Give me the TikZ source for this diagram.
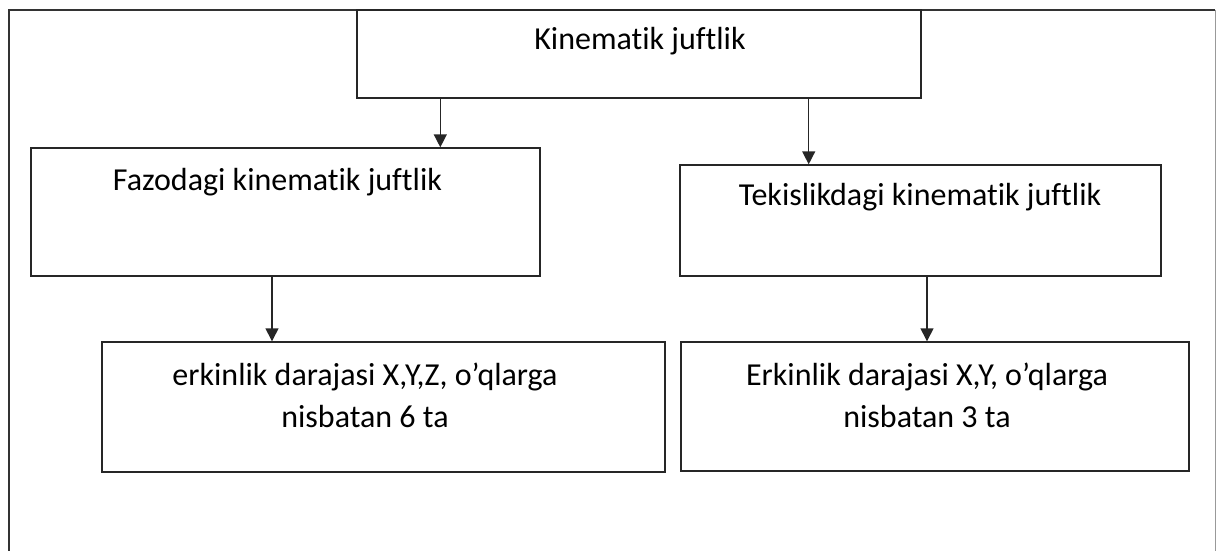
\documentclass[tikz,border=0pt]{standalone}
\usepackage{fontspec}
\setmainfont{Carlito}[Ligatures=NoCommon]
\usetikzlibrary{positioning,arrows.meta}

\tikzset{
    box/.style={draw=black!85, line width=1.4pt, rectangle, inner sep=0pt},
    txt/.style={font=\fontsize{32}{42}\selectfont, align=center, inner sep=0pt},
    arr/.style={draw=black!85, line width=1.4pt, -{Triangle[length=13pt,width=13pt]}}
}

\begin{document}
\begin{tikzpicture}[x=1pt, y=-1pt]
    \useasboundingbox (0,0) rectangle (1216,551);
    % outer frame, open at the bottom
    \draw[draw=black!80, line width=1.4pt] (9,551) -- (9,10) -- (1215,10);
    \draw[draw=black!40, line width=1pt] (1215,10) -- (1215,551);

    % boxes
    \node[box, minimum width=564pt, minimum height=88pt] (top) at (639,54) {};
    \node[box, minimum width=509pt, minimum height=128pt] (fazo) at (285.5,212) {};
    \node[box, minimum width=481pt, minimum height=111pt] (tekis) at (920.5,220.5) {};
    \node[box, minimum width=563pt, minimum height=130pt] (erk6) at (383.5,407) {};
    \node[box, minimum width=508pt, minimum height=129pt] (erk3) at (935,406.5) {};

    % texts
    \node[txt, anchor=base] (toptxt) at (640,50) {Kinematik juftlik};
    \node[txt, anchor=base] (fazotxt) at (277.5,190) {Fazodagi kinematik juftlik};
    \node[txt, anchor=base] (tekistxt) at (920,205) {Tekislikdagi kinematik juftlik};
    \node[txt] (erk6txt) at (365,395) {erkinlik darajasi X,Y,Z, o’qlarga\\nisbatan 6 ta};
    \node[txt] (erk3txt) at (927,395) {Erkinlik darajasi X,Y, o’qlarga\\nisbatan 3 ta};

    % arrows
    \draw[arr] ([xshift=84pt]top.south west) -- ([xshift=84pt]top.south west |- fazo.north);
    \draw[arr] ([xshift=-113pt]top.south east) -- ([xshift=-113pt]top.south east |- tekis.north);
    \draw[arr] ([xshift=-13.5pt]fazo.south) -- ([xshift=-13.5pt]fazo.south |- erk6.north);
    \draw[arr] ([xshift=6.5pt]tekis.south) -- ([xshift=6.5pt]tekis.south |- erk3.north);
\end{tikzpicture}
\end{document}
